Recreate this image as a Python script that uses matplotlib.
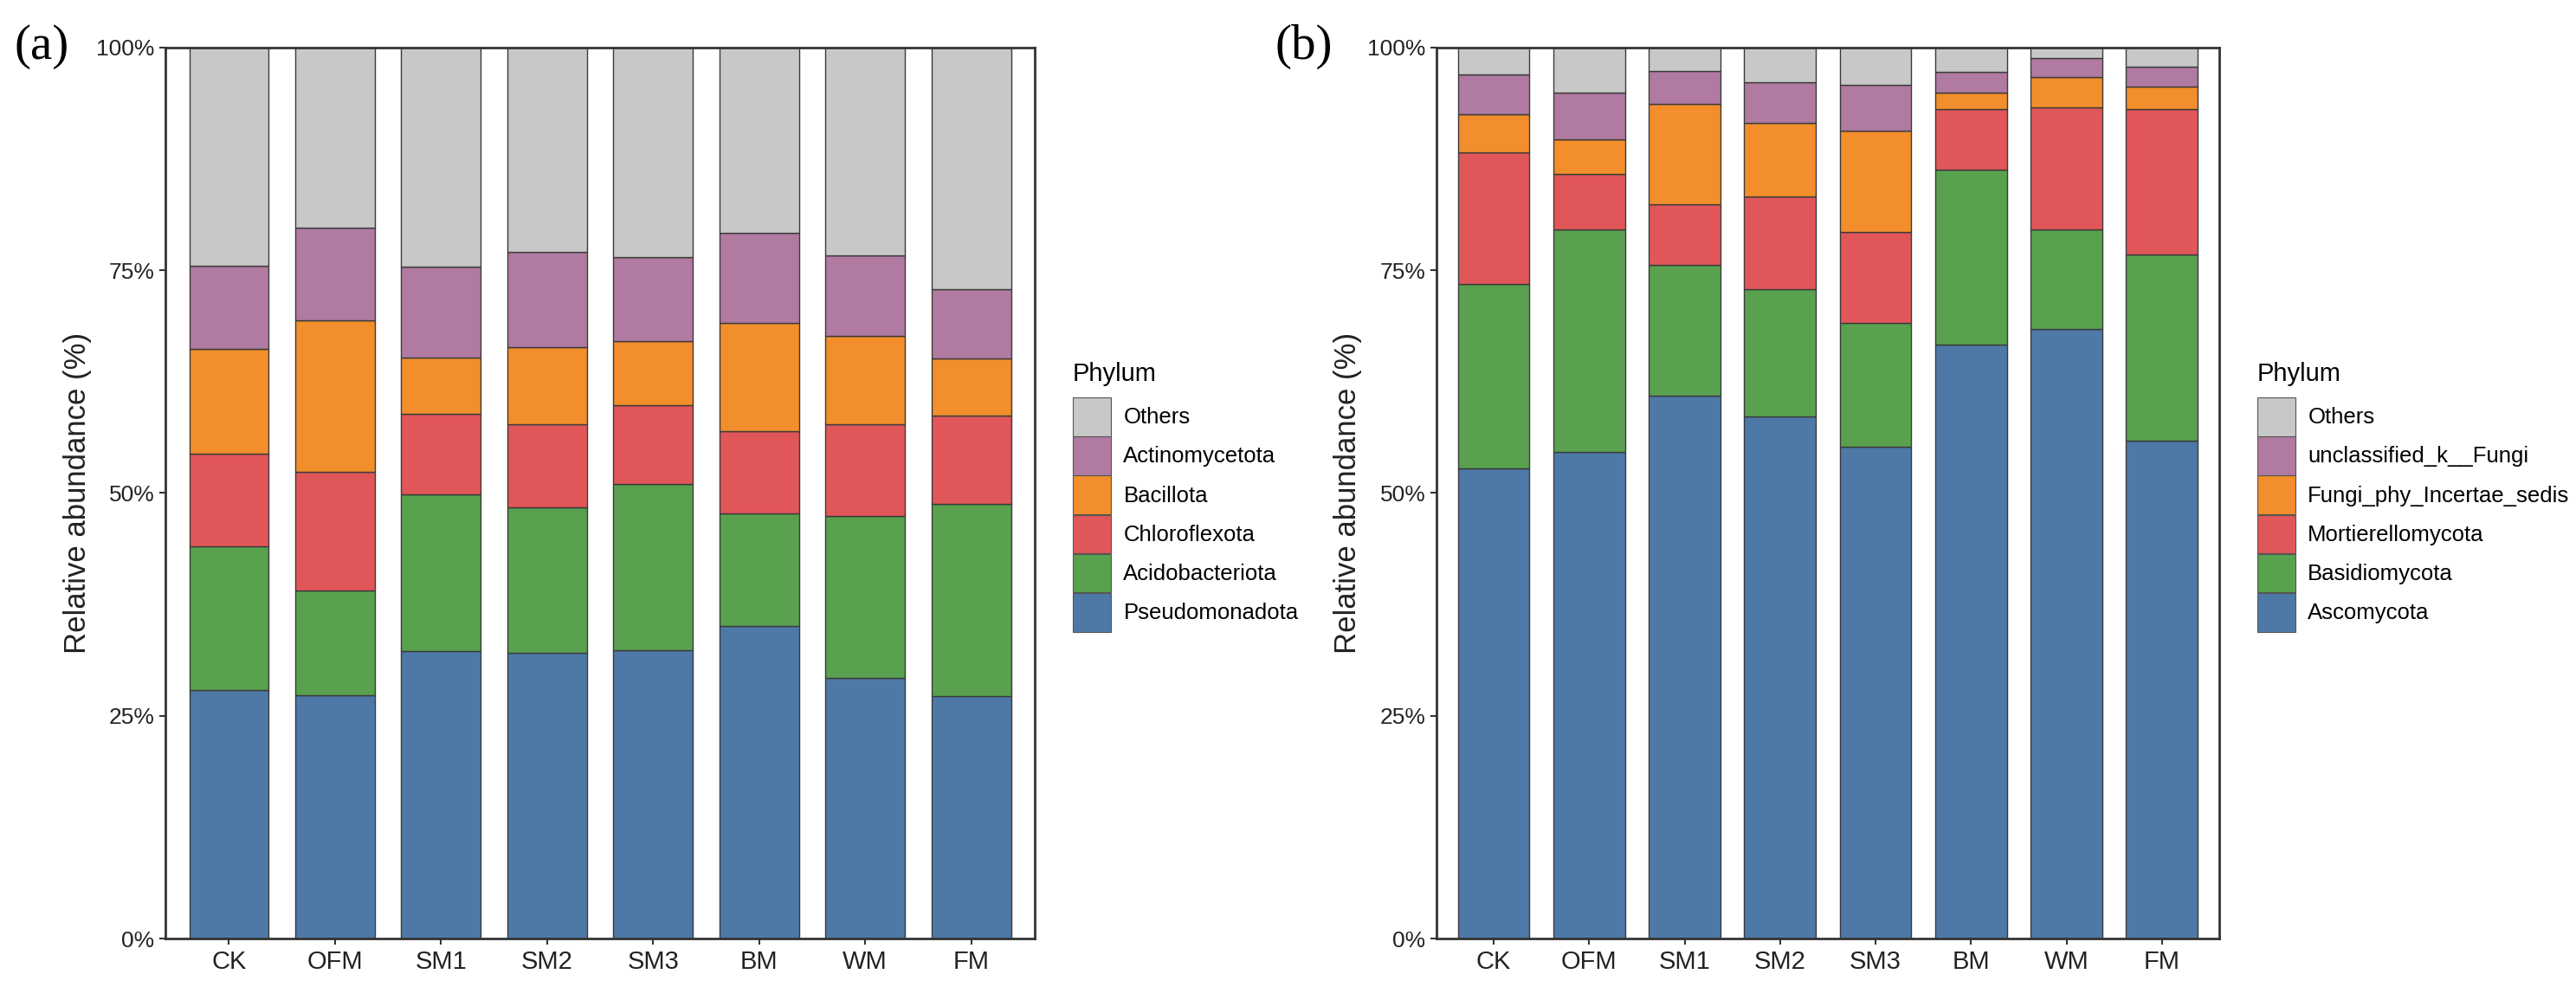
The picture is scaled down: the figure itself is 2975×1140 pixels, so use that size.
import numpy as np
import matplotlib
matplotlib.use("Agg")
import matplotlib.pyplot as plt
from matplotlib.patches import Patch

plt.rcParams['font.family'] = ['Liberation Sans', 'DejaVu Sans']

samples = ["CK", "OFM", "SM1", "SM2", "SM3", "BM", "WM", "FM"]
yticks = [0, 25, 50, 75, 100]
ytick_labels = ["0%", "25%", "50%", "75%", "100%"]

# panel (a) - bacteria, stacked bottom to top
bact_taxa = ["Pseudomonadota", "Acidobacteriota", "Chloroflexota",
             "Bacillota", "Actinomycetota", "Others"]
pseudomonadota = [27.9, 27.3, 32.3, 32.1, 32.4, 35.1, 29.3, 27.2]
acidobacteriota = [16.1, 11.8, 17.6, 16.3, 18.6, 12.6, 18.1, 21.6]
chloroflexota = [10.4, 13.3, 9.0, 9.3, 8.9, 9.2, 10.3, 9.9]
bacillota = [11.8, 17.0, 6.3, 8.7, 7.2, 12.2, 9.9, 6.4]
actinomycetota = [9.3, 10.4, 10.2, 10.7, 9.4, 10.1, 9.1, 7.8]
bact_others = [24.5, 20.2, 24.6, 22.9, 23.5, 20.8, 23.3, 27.1]

# panel (b) - fungi, stacked bottom to top
fungi_taxa = ["Ascomycota", "Basidiomycota", "Mortierellomycota",
              "Fungi_phy_Incertae_sedis", "unclassified_k__Fungi", "Others"]
ascomycota = [52.8, 54.6, 60.9, 58.6, 55.2, 66.7, 68.4, 55.9]
basidiomycota = [20.7, 25.0, 14.7, 14.3, 13.9, 19.6, 11.2, 20.9]
mortierellomycota = [14.7, 6.2, 6.8, 10.4, 10.2, 6.8, 13.7, 16.3]
incertae_sedis = [4.3, 3.9, 11.3, 8.2, 11.4, 1.8, 3.4, 2.5]
unclassified_fungi = [4.5, 5.2, 3.7, 4.6, 5.1, 2.4, 2.1, 2.3]
fungi_others = [3.0, 5.1, 2.6, 3.9, 4.2, 2.7, 1.2, 2.1]

colors = ["#4E79A7", "#59A14F", "#E15759", "#F28E2B", "#B07AA1", "#C8C8C8"]
edge = "#3a3a3a"
dark = "#222222"


def draw_panel(ax, taxa, series, leg_x):
    x = np.arange(len(samples))
    bottom = np.zeros(len(samples))
    for name, vals, col in zip(taxa, series, colors):
        ax.bar(x, vals, bottom=bottom, width=0.75, color=col,
               edgecolor=edge, linewidth=1.0, label=name)
        bottom += np.array(vals)
    ax.set_xlim(-0.6, len(samples) - 0.4)
    ax.set_ylim(0, 100)
    ax.set_xticks(x)
    ax.set_xticklabels(samples)
    ax.set_yticks(yticks)
    ax.set_yticklabels(ytick_labels)
    ax.tick_params(length=5, width=1.5, color="#333333", labelcolor=dark, pad=4)
    ax.tick_params(axis="x", labelsize=21)
    ax.tick_params(axis="y", labelsize=19)
    for s in ax.spines.values():
        s.set_linewidth(2.0)
        s.set_color("#333333")
    ax.set_ylabel("Relative abundance (%)", fontsize=25, color=dark, labelpad=4)

    # legend: top entry is the last stacked layer
    handles = [Patch(facecolor=c, edgecolor="#555555", linewidth=0.8, label=n)
               for n, c in zip(taxa, colors)][::-1]
    leg = fig.legend(handles=handles, title="Phylum", loc="upper left",
                     bbox_to_anchor=(leg_x, 0.633), frameon=False,
                     fontsize=18.5, title_fontsize=21, handlelength=1.72,
                     handleheight=2.3, labelspacing=0.02, handletextpad=0.55,
                     borderpad=0, borderaxespad=0, alignment="left")
    leg._legend_box.sep = 9  # a little room under the title
    return leg


fig = plt.figure(figsize=(29.75, 11.4), dpi=100)
ax1 = fig.add_axes([0.0642, 0.0491, 0.3375, 0.9027])
ax2 = fig.add_axes([0.5576, 0.0491, 0.3039, 0.9027])

draw_panel(ax1, bact_taxa, [pseudomonadota, acidobacteriota, chloroflexota,
                            bacillota, actinomycetota, bact_others], 0.4165)
draw_panel(ax2, fungi_taxa, [ascomycota, basidiomycota, mortierellomycota,
                             incertae_sedis, unclassified_fungi, fungi_others], 0.8763)

fig.text(0.0054, 0.953, "(a)", family=["Liberation Serif", "DejaVu Serif"],
         fontsize=41, ha="left", va="center")
fig.text(0.4951, 0.953, "(b)", family=["Liberation Serif", "DejaVu Serif"],
         fontsize=41, ha="left", va="center")

fig.savefig("out.png", dpi=100)
